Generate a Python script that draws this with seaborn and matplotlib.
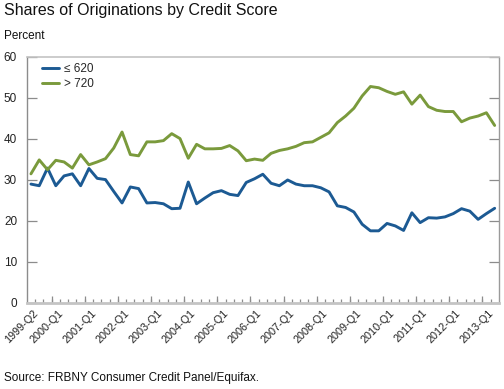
import numpy as np
import pandas as pd
import matplotlib
matplotlib.use("Agg")
import matplotlib.pyplot as plt
import matplotlib.transforms as mtransforms
import seaborn as sns
from matplotlib.ticker import FixedLocator

# ---------------- data ----------------
quarters = [f"{y}-Q{q}" for y in range(1999, 2014) for q in range(1, 5)]
quarters = quarters[quarters.index("1999-Q2"):quarters.index("2013-Q2") + 1]

low_620 = [29.0, 28.6, 32.9, 28.6, 31.0, 31.5, 28.6, 32.8, 30.4, 30.1,
           27.2, 24.4, 28.3, 27.9, 24.4, 24.5, 24.2, 23.0, 23.1, 29.5,
           24.2, 25.6, 26.9, 27.4, 26.5, 26.2, 29.4, 30.3, 31.4, 29.2,
           28.6, 30.0, 29.0, 28.6, 28.6, 28.1, 27.1, 23.7, 23.3, 22.2,
           19.2, 17.6, 17.6, 19.4, 18.8, 17.7, 22.0, 19.6, 20.8, 20.7,
           21.0, 21.8, 23.0, 22.4, 20.4, 21.8, 23.1]
high_720 = [31.5, 34.9, 32.5, 34.8, 34.4, 32.9, 36.2, 33.7, 34.4, 35.2,
            37.8, 41.7, 36.2, 35.9, 39.3, 39.3, 39.6, 41.3, 40.1, 35.3,
            38.7, 37.6, 37.6, 37.7, 38.4, 37.1, 34.7, 35.1, 34.8, 36.5,
            37.2, 37.6, 38.2, 39.1, 39.3, 40.4, 41.5, 44.0, 45.6, 47.5,
            50.5, 52.8, 52.5, 51.6, 50.9, 51.5, 48.5, 50.7, 47.9, 47.0,
            46.7, 46.7, 44.2, 45.1, 45.6, 46.4, 43.3]
series_names = ["\u2264 620", "> 720"]
series_colors = ["#1c5a93", "#7a9a3c"]
y_ticks = [0, 10, 20, 30, 40, 50, 60]
title = "Shares of Originations by Credit Score"
unit_label = "Percent"
source = "Source: FRBNY Consumer Credit Panel/Equifax."

n = len(quarters)
df = pd.DataFrame({
    "idx": list(range(n)) * 2,
    "value": low_620 + high_720,
    "series": [series_names[0]] * n + [series_names[1]] * n,
})

# ---------------- style ----------------
sns.set_style("white")
plt.rcParams["font.family"] = ["Liberation Sans", "DejaVu Sans"]

fig = plt.figure(figsize=(5.04, 3.89), dpi=100)
ax = fig.add_axes([0.0532, 0.2211, 0.9365, 0.6324])

sns.lineplot(data=df, x="idx", y="value", hue="series",
             palette=dict(zip(series_names, series_colors)),
             linewidth=2.1, ax=ax, legend=True)

ax.set_xlim(-0.5, n - 0.5)
ax.set_ylim(0, 60)
ax.set_xlabel("")
ax.set_ylabel("")

# y axis
ax.set_yticks(y_ticks)
ax.set_yticklabels([str(v) for v in y_ticks], fontsize=8.5, color="#222222")
ax.tick_params(axis="y", which="major", direction="in", length=7.5, width=0.9,
               color="#8c8c8c", left=True, right=True, labelleft=True,
               labelright=False, pad=7)

# x axis: labels at category centres, ticks between categories
label_idx = [i for i, q in enumerate(quarters) if q.endswith("Q1") or i == 0]
ax.xaxis.set_major_locator(FixedLocator(label_idx))
ax.set_xticklabels([quarters[i] for i in label_idx], rotation=45, ha="right",
                   va="center", rotation_mode="anchor", fontsize=7.8,
                   color="#222222")
ax.tick_params(axis="x", which="major", length=0, pad=6)
shift = mtransforms.ScaledTranslation(0.055, 0, fig.dpi_scale_trans)
for lab in ax.get_xticklabels():
    lab.set_transform(lab.get_transform() + shift)
ax.xaxis.set_minor_locator(FixedLocator([i + 0.5 for i in range(n - 1)]))
ax.tick_params(axis="x", which="minor", direction="in", length=3.2, width=0.9,
               color="#8c8c8c", bottom=True)

sec = ax.secondary_xaxis("bottom")
sec.set_xticks([i - 0.5 for i, q in enumerate(quarters) if q.endswith("Q1")])
sec.set_xticklabels([])
sec.tick_params(direction="in", length=5.3, width=0.9, color="#8c8c8c")
sec.spines["bottom"].set_visible(False)

# spines
for side, col, lw in [("left", "#8c8c8c", 1.0), ("right", "#9a9a9a", 1.0),
                      ("top", "#c4c4c4", 1.2), ("bottom", "#c4c4c4", 2.0)]:
    ax.spines[side].set_visible(True)
    ax.spines[side].set_color(col)
    ax.spines[side].set_linewidth(lw)

ax.grid(False)

leg = ax.legend(loc="upper left", bbox_to_anchor=(0.032, 0.975),
                frameon=False, fontsize=8.5, handlelength=1.45,
                handletextpad=0.45, labelspacing=0.25, borderpad=0,
                borderaxespad=0)

fig.text(0.008, 0.974, title, fontsize=11.5, ha="left", va="center", color="#111111")
fig.text(0.008, 0.9075, unit_label, fontsize=8.5, ha="left", va="center", color="#111111")
fig.text(0.008, 0.028, source, fontsize=8.5, ha="left", va="center", color="#111111")

fig.savefig("out.png", dpi=100)
